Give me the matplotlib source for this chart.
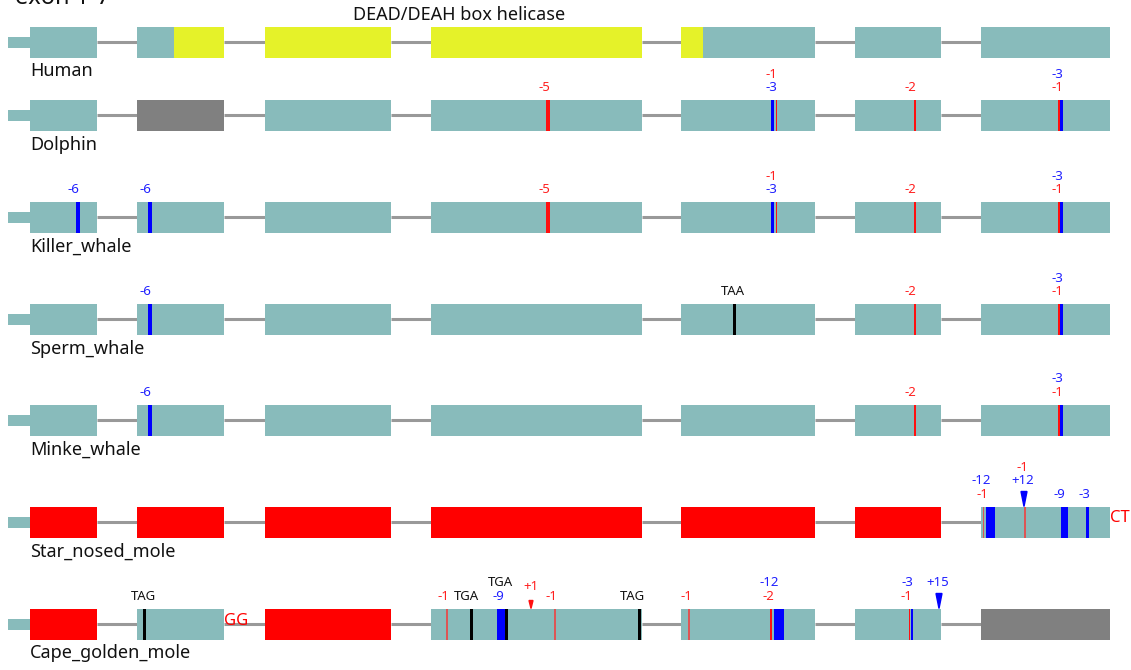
import matplotlib.pyplot as plt
from matplotlib.patches import Polygon

plt.rcParams['font.family'] = ['Noto Sans', 'DejaVu Sans']

species = ['Human', 'Dolphin', 'Killer_whale', 'Sperm_whale', 'Minke_whale',
           'Star_nosed_mole', 'Cape_golden_mole']
row_y = [42, 115, 217, 319, 420, 522, 624]

# exon coordinates along the gene (shared by all species)
exon_start = [30, 137, 265, 431, 681, 855, 981]
exon_end = [97, 224, 391, 642, 815, 941, 1110]
utr_start = 8
domain = (174, 703)          # DEAD/DEAH box helicase, shown on the human row
domain_label = 'DEAD/DEAH box helicase'

# exon state: T = intact, G = missing, R = lost / not found
exon_state = {
    'Human':            'TTTTTTT',
    'Dolphin':          'TGTTTTT',
    'Killer_whale':     'TTTTTTT',
    'Sperm_whale':      'TTTTTTT',
    'Minke_whale':      'TTTTTTT',
    'Star_nosed_mole':  'RRRRRRT',
    'Cape_golden_mole': 'RTRTTTG',
}

# mutations: (position, width, kind)
marks = {
    'Dolphin': [(548, 4, 'fs'), (772.5, 2.5, 'del'), (776.5, 1.5, 'fs'),
                (914.5, 2, 'fs'), (1059, 1.5, 'fs'), (1061.5, 3, 'del')],
    'Killer_whale': [(78, 4.5, 'del'), (150, 4.5, 'del'), (548, 4, 'fs'),
                     (772.5, 2.5, 'del'), (776.5, 1.5, 'fs'), (914.5, 2, 'fs'),
                     (1059, 1.5, 'fs'), (1061.5, 3, 'del')],
    'Sperm_whale': [(150, 4.5, 'del'), (734.5, 3, 'stop'), (914.5, 2, 'fs'),
                    (1059, 1.5, 'fs'), (1061.5, 3, 'del')],
    'Minke_whale': [(150, 4.5, 'del'), (914.5, 2, 'fs'),
                    (1059, 1.5, 'fs'), (1061.5, 3, 'del')],
    'Star_nosed_mole': [(983.5, 1.5, 'fs2'), (990, 9, 'del'), (1025, 1.5, 'fs2'),
                        (1064.5, 7, 'del'), (1087.5, 2.5, 'del')],
    'Cape_golden_mole': [(144.5, 3, 'stop'), (447, 1.5, 'fs2'), (471, 3, 'stop'),
                         (501, 8, 'del'), (506.5, 3, 'stop'), (555, 1.5, 'fs2'),
                         (639.5, 3, 'stop'), (689, 1.5, 'fs2'), (770.5, 2, 'fs'),
                         (779, 10, 'del'), (909.5, 1.5, 'fs'), (912, 2.5, 'del')],
}

# labels: (x, text, kind, level above the exon)
labels = {
    'Dolphin': [(544, '-5', 'fs', 1), (771, '-1', 'fs', 2), (771, '-3', 'del', 1),
                (910, '-2', 'fs', 1), (1057, '-3', 'del', 2), (1057, '-1', 'fs', 1)],
    'Killer_whale': [(73, '-6', 'del', 1), (145, '-6', 'del', 1), (544, '-5', 'fs', 1),
                     (771, '-1', 'fs', 2), (771, '-3', 'del', 1), (910, '-2', 'fs', 1),
                     (1057, '-3', 'del', 2), (1057, '-1', 'fs', 1)],
    'Sperm_whale': [(145, '-6', 'del', 1), (733, 'TAA', 'stop', 1), (910, '-2', 'fs', 1),
                    (1057, '-3', 'del', 2), (1057, '-1', 'fs', 1)],
    'Minke_whale': [(145, '-6', 'del', 1), (910, '-2', 'fs', 1),
                    (1057, '-3', 'del', 2), (1057, '-1', 'fs', 1)],
    'Star_nosed_mole': [(981, '-12', 'del', 2), (982, '-1', 'fs', 1), (1022, '-1', 'fs', 3),
                        (1023, '+12', 'del', 2), (1059, '-9', 'del', 1), (1084, '-3', 'del', 1)],
    'Cape_golden_mole': [(143, 'TAG', 'stop', 1), (443, '-1', 'fs', 1), (466, 'TGA', 'stop', 1),
                         (498, '-9', 'del', 1), (500, 'TGA', 'stop', 2), (531, '+1', 'fs', 1.75),
                         (551, '-1', 'fs', 1), (632, 'TAG', 'stop', 1), (686, '-1', 'fs', 1),
                         (769, '-12', 'del', 2), (768, '-2', 'fs', 1), (907, '-3', 'del', 2),
                         (906, '-1', 'fs', 1), (938, '+15', 'del', 2)],
}

# insertion arrows: (x, kind, size)
inserts = {
    'Star_nosed_mole': [(1024, 'del', 'big')],
    'Cape_golden_mole': [(531, 'fs', 'small'), (939, 'del', 'big')],
}

# splice-site changes written next to an exon: (x, text)
splice = {
    'Star_nosed_mole': [(1110, 'CT')],
    'Cape_golden_mole': [(224, 'GG')],
}

TEAL, YELLOW, RED, GREY = '#88bbbb', '#e5f229', '#ff0000', '#808080'
state_color = {'T': TEAL, 'G': GREY, 'R': RED}
mark_color = {'fs': '#ff1010', 'fs2': '#dd5555', 'del': '#0000ff', 'stop': '#000000'}
text_color = {'fs': '#ff2020', 'del': '#2020ff', 'stop': '#111111'}

H = 31

fig = plt.figure(figsize=(11.31, 6.70), dpi=100)
ax = fig.add_axes([0, 0, 1, 1])
ax.set_xlim(0, 1131)
ax.set_ylim(670, 0)
ax.axis('off')

for sp, y in zip(species, row_y):
    # introns
    for e0, s1 in zip(exon_end[:-1], exon_start[1:]):
        ax.plot([e0, s1], [y, y], color='#999999', lw=2.2, solid_capstyle='butt', zorder=1)
    # 5' UTR stub
    ax.bar(utr_start, 11, width=exon_start[0] - utr_start, bottom=y - 5.5,
           align='edge', color=TEAL, zorder=2)
    # exons
    for s, e, st in zip(exon_start, exon_end, exon_state[sp]):
        ax.bar(s, H, width=e - s, bottom=y - H / 2, align='edge',
               color=state_color[st], zorder=2)
        if sp == 'Human':
            a, b = max(s, domain[0]), min(e, domain[1])
            if b > a:
                ax.bar(a, H, width=b - a, bottom=y - H / 2, align='edge',
                       color=YELLOW, zorder=3)
    for x, w, k in marks.get(sp, []):
        ax.bar(x, H, width=w, bottom=y - H / 2, color=mark_color[k], zorder=4)
    top = y - H / 2
    for x, t, k, lv in labels.get(sp, []):
        ax.text(x, top - 12 - (lv - 1) * 13.5, t, color=text_color[k], fontsize=9.5,
                ha='center', va='center')
    for x, k, size in inserts.get(sp, []):
        hw, hh = (3, 15) if size == 'big' else (2, 8)
        ax.add_patch(Polygon([(x - hw, top - hh), (x + hw, top - hh), (x, top)],
                             closed=True, color=mark_color[k], zorder=5))
    for x, t in splice.get(sp, []):
        ax.text(x, y - 4 if x > 1000 else y - 3, t, color=RED, fontsize=12,
                ha='left', va='center')
    ax.text(exon_start[0], y + H / 2 + 14, sp, fontsize=13, color='#111111',
            ha='left', va='center')

ax.text(459, 15, domain_label, fontsize=13, color='#111111', ha='center', va='center')
ax.text(15, 4, 'exon 1-7', fontsize=17, color='#111111', ha='left', va='baseline')

fig.savefig('out.png', dpi=100)
